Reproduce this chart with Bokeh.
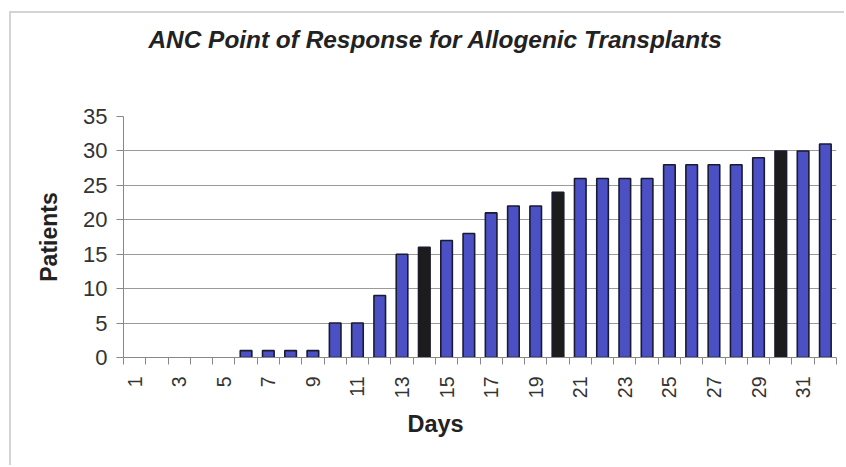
import math
from bokeh.plotting import figure
from bokeh.models import Range1d, FixedTicker, ColumnDataSource, Title
from bokeh.embed import file_html
from bokeh.resources import INLINE

# Patients reaching ANC response, by day after transplant
days = list(range(1, 33))
patients = [0, 0, 0, 0, 0, 1, 1, 1, 1, 5, 5, 9, 15, 16, 17, 18,
            21, 22, 22, 24, 26, 26, 26, 26, 28, 28, 28, 28, 29, 30, 30, 31]
highlight_days = [14, 20, 30]
day_labels = [str(d) for d in range(1, 33, 2)]
y_ticks = [0, 5, 10, 15, 20, 25, 30, 35]

BLUE = "#4b50c4"
DARK = "#1c1c1c"
colors = [DARK if d in highlight_days else BLUE for d in days]
edges = ["#1a1a30" if v > 0 else None for v in patients]

src = ColumnDataSource(dict(day=days, patients=patients, color=colors, edge=edges))

p = figure(width=835, height=454, output_backend="svg", toolbar_location=None,
           x_range=Range1d(0.5, 32.5), y_range=Range1d(0, 35),
           min_border_left=112, min_border_right=10,
           min_border_top=103, min_border_bottom=110,
           margin=(11, 0, 0, 9),
           styles={"border-top": "2px solid #d4d4d4",
                   "border-left": "2px solid #d4d4d4"})

p.vbar(x="day", top="patients", width=0.52, source=src,
       fill_color="color", line_color="edge", line_width=1.6)

p.outline_line_color = None
p.background_fill_color = "white"
p.border_fill_color = "white"

# Chart title, lifted away from the plot area by an empty spacer panel
p.title.text = "ANC Point of Response for Allogenic Transplants"
p.title.text_font = "Liberation Sans"
p.title.text_font_style = "bold italic"
p.title.text_font_size = "24.4px"
p.title.text_color = "#222222"
p.title.align = "left"
p.title.offset = 25
p.title.standoff = 10
p.add_layout(Title(text=" ", text_font_size="1px", standoff=56), "above")

# X axis: odd day labels, tick marks between categories
xa = p.xaxis[0]
xa.ticker = FixedTicker(ticks=list(range(1, 33, 2)),
                        minor_ticks=[d + 0.5 for d in range(0, 33)])
xa.major_label_overrides = {int(s): s for s in day_labels}
xa.major_label_orientation = math.pi / 2
xa.major_tick_line_color = None
xa.minor_tick_in = 0
xa.minor_tick_out = 7
xa.minor_tick_line_color = "#888888"
xa.axis_line_color = "#888888"
xa.major_label_text_font = "Liberation Sans"
xa.major_label_text_font_size = "19.5px"
xa.major_label_text_color = "#333333"
xa.major_label_standoff = 12

# Caption under the day labels
p.add_layout(Title(text="Days", align="left", offset=284, standoff=15,
                   text_font="Liberation Sans", text_font_style="bold",
                   text_font_size="23.5px", text_color="#222222"), "below")

# Y axis
ya = p.yaxis[0]
ya.ticker = FixedTicker(ticks=y_ticks, minor_ticks=[])
ya.major_tick_in = 0
ya.major_tick_out = 7
ya.major_tick_line_color = "#888888"
ya.axis_line_color = "#888888"
ya.major_label_text_font = "Liberation Sans"
ya.major_label_text_font_size = "22px"
ya.major_label_text_color = "#333333"
ya.major_label_standoff = 9
ya.axis_label = "Patients"
ya.axis_label_text_font = "Liberation Sans"
ya.axis_label_text_font_style = "bold"
ya.axis_label_text_font_size = "23px"
ya.axis_label_text_color = "#222222"
ya.axis_label_standoff = 18

p.xgrid.grid_line_color = None
p.ygrid.ticker = FixedTicker(ticks=y_ticks)
p.ygrid.grid_line_color = "#9a9a9a"
p.ygrid.grid_line_width = 1

open("out.html", "w").write(file_html(p, INLINE))
